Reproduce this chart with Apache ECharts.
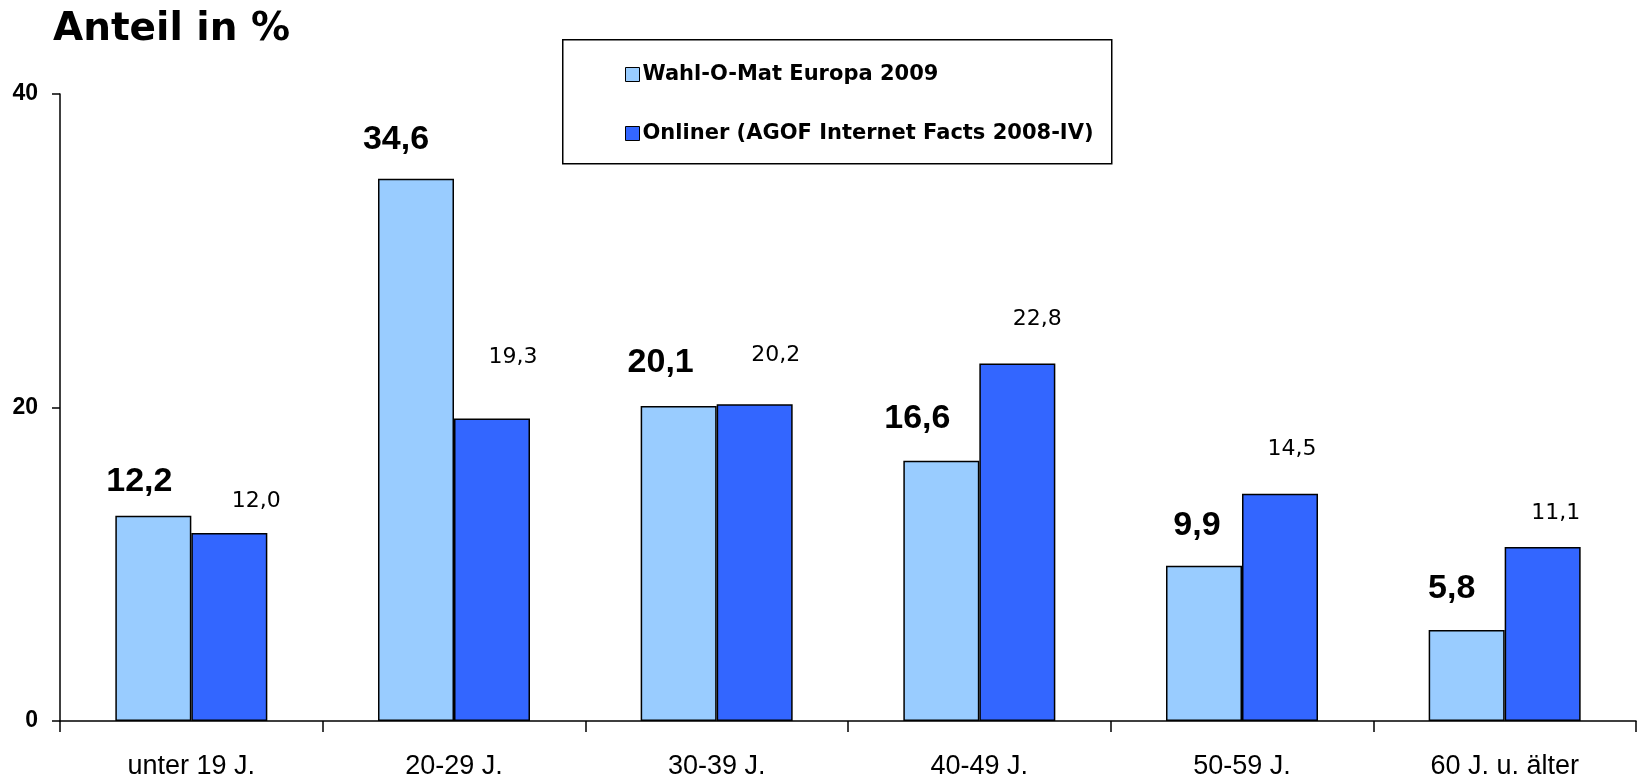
<!DOCTYPE html>
<html>
<head>
<meta charset="utf-8">
<script src="https://cdn.jsdelivr.net/npm/echarts@6/dist/echarts.min.js"></script>
<style>
  html, body { margin: 0; padding: 0; background: #fff; }
  #chart { width: 1639px; height: 784px; }
</style>
</head>
<body>
<div id="chart"></div>
<script>
// --- Datos ---
const categorias = ["unter 19 J.", "20-29 J.", "30-39 J.", "40-49 J.", "50-59 J.", "60 J. u. älter"];
const serieNombres = ["Wahl-O-Mat Europa 2009", "Onliner (AGOF Internet Facts 2008-IV)"];
// altura dibujada de las barras
const wahlOMat = [13.1, 34.6, 20.1, 16.6, 9.9, 5.8];
const onliner = [12.0, 19.3, 20.2, 22.8, 14.5, 11.1];
// textos de las etiquetas tal como aparecen
const wahlOMatEtiquetas = ["12,2", "34,6", "20,1", "16,6", "9,9", "5,8"];
const onlinerEtiquetas = ["12,0", "19,3", "20,2", "22,8", "14,5", "11,1"];
const yTicks = [0, 20, 40];

// --- Ajuste fino de la posicion de las etiquetas (px) ---
const desplazGrande = [[-14, -12], [-20, -17], [-18, -21], [-24, -20], [-7, -18], [-15, -19]];
const desplazPeque = [[27, -16], [21, -45], [21, -33], [20, -28], [12, -28], [13, -18]];

function datosConEtiqueta(valores, textos, desplaz) {
    return valores.map((v, i) => ({
        value: v,
        label: { offset: desplaz[i], formatter: textos[i] }
    }));
}

var myChart = echarts.init(document.getElementById("chart"));

myChart.setOption({
    animation: false,
    title: {
        text: "Anteil in %",
        left: 48,
        top: 5,
        textStyle: { fontFamily: "DejaVu Sans", fontWeight: "bold", fontSize: 39, color: "#000" }
    },
    graphic: [
        {
            type: "rect",
            left: 562,
            top: 39,
            shape: { width: 549, height: 124 },
            style: { fill: "#fff", stroke: "#000", lineWidth: 1.5 },
            z: 0
        }
    ],
    legend: {
        orient: "vertical",
        left: 620,
        top: 59,
        itemWidth: 14,
        itemHeight: 14,
        itemGap: 38,
        icon: "rect",
        itemStyle: { borderColor: "#000", borderWidth: 1 },
        textStyle: { fontFamily: "DejaVu Sans", fontWeight: "bold", fontSize: 21, color: "#000", padding: [0, 0, 0, -2] },
        z: 5
    },
    grid: { left: 60, right: 3, top: 94, bottom: 63 },
    xAxis: {
        type: "category",
        data: categorias,
        axisLine: { lineStyle: { color: "#000", width: 1.5 } },
        axisTick: { show: true, length: 11, lineStyle: { color: "#000", width: 1.5 } },
        axisLabel: { fontFamily: "Liberation Sans", fontSize: 27, color: "#000", margin: 32 }
    },
    yAxis: {
        type: "value",
        min: yTicks[0],
        max: yTicks[yTicks.length - 1],
        interval: 20,
        splitLine: { show: false },
        axisLine: { show: true, lineStyle: { color: "#000", width: 1.5 } },
        axisTick: { show: true, length: 8, lineStyle: { color: "#000", width: 1.5 } },
        axisLabel: { fontFamily: "Liberation Sans", fontWeight: "bold", fontSize: 23, color: "#000", margin: 22 }
    },
    series: [
        {
            name: serieNombres[0],
            type: "bar",
            barWidth: 76,
            barGap: "0%",
            itemStyle: { color: "#99CCFF", borderColor: "#000", borderWidth: 1.5 },
            label: {
                show: true,
                position: "top",
                fontFamily: "Liberation Sans",
                fontWeight: "bold",
                fontSize: 34,
                color: "#000"
            },
            data: datosConEtiqueta(wahlOMat, wahlOMatEtiquetas, desplazGrande)
        },
        {
            name: serieNombres[1],
            type: "bar",
            barWidth: 76,
            itemStyle: { color: "#3366FF", borderColor: "#000", borderWidth: 1.5 },
            label: {
                show: true,
                position: "top",
                fontFamily: "DejaVu Sans",
                fontSize: 22,
                color: "#000"
            },
            data: datosConEtiqueta(onliner, onlinerEtiquetas, desplazPeque)
        }
    ]
});
</script>
</body>
</html>
